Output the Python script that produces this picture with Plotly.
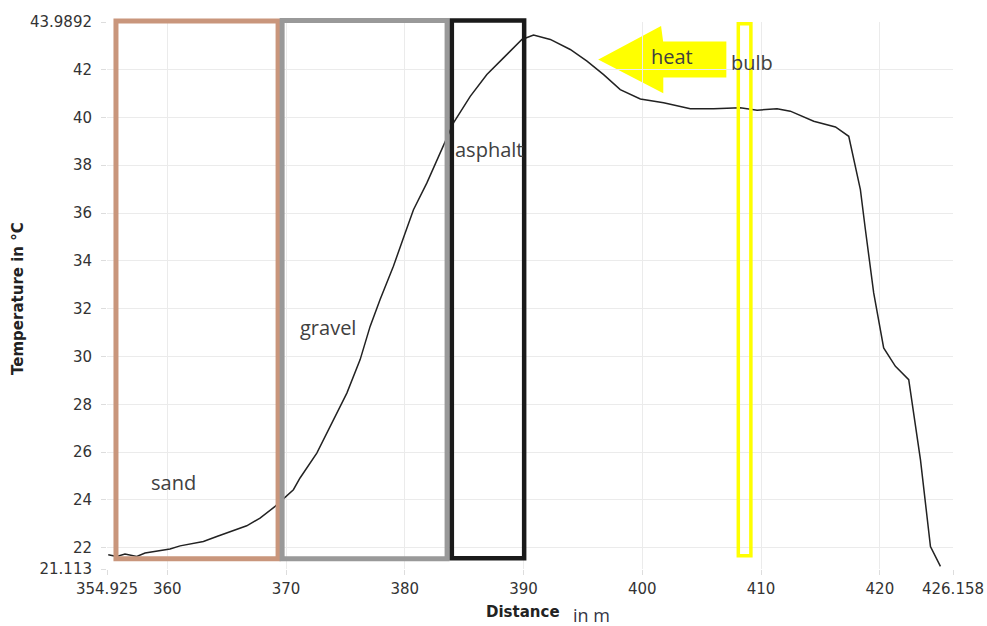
import plotly.graph_objects as go

# ---- data ----
distance = [355.03, 355.74, 356.44, 357.43, 358.13, 359.11, 360.23, 361.08, 361.92, 363.04,
            364.17, 365.29, 366.69, 367.81, 369.08, 370.62, 371.18, 372.59, 373.99, 375.12,
            376.24, 377.08, 377.92, 379.04, 380.03, 380.73, 381.86, 383.26, 384.10, 385.51,
            386.91, 388.31, 389.86, 390.84, 392.25, 393.93, 395.34, 396.74, 398.14, 399.83,
            401.79, 404.04, 406.00, 408.25, 409.66, 411.34, 412.46, 414.43, 416.26, 417.38,
            418.36, 418.78, 419.35, 419.48, 420.32, 421.31, 422.43, 423.42, 424.26, 425.10]
temperature = [21.71, 21.64, 21.74, 21.64, 21.78, 21.87, 21.95, 22.08, 22.17, 22.26,
               22.47, 22.68, 22.92, 23.24, 23.73, 24.43, 24.92, 25.96, 27.36, 28.47,
               29.87, 31.26, 32.38, 33.77, 35.17, 36.14, 37.26, 38.86, 39.77, 40.88,
               41.79, 42.49, 43.26, 43.44, 43.26, 42.84, 42.35, 41.79, 41.16, 40.77,
               40.61, 40.36, 40.36, 40.40, 40.30, 40.36, 40.26, 39.84, 39.60, 39.21,
               36.98, 35.31, 33.21, 32.66, 30.36, 29.59, 29.03, 25.68, 22.05, 21.22]

x_min, x_max = 354.925, 426.158
y_min, y_max = 21.113, 43.9892
x_ticks = [354.925, 360, 370, 380, 390, 400, 410, 420, 426.158]
x_tick_text = ["354.925", "360", "370", "380", "390", "400", "410", "420", "426.158"]
y_ticks = [21.113, 22, 24, 26, 28, 30, 32, 34, 36, 38, 40, 42, 43.9892]
y_tick_text = ["21.113", "22", "24", "26", "28", "30", "32", "34", "36", "38", "40", "42", "43.9892"]

# zones: name, x0, x1, y_bottom, y_top, colour, width
zones = [
    ("sand", 355.68, 369.33, 21.54, 44.03, "#c9967c", 5),
    ("gravel", 369.67, 383.56, 21.54, 44.05, "#999999", 5),
    ("asphalt", 383.96, 390.05, 21.56, 44.05, "#1a1a1a", 4.5),
    ("bulb", 408.08, 409.14, 21.67, 43.92, "#ffff00", 3.5),
]
labels = [
    ("sand", 360.49, 24.72),
    ("gravel", 373.50, 31.21),
    ("asphalt", 387.11, 38.65),
    ("heat", 402.50, 42.56),
    ("bulb", 409.24, 42.28),
]
arrow_x = [396.46, 401.51, 401.68, 406.99, 406.99, 401.68, 401.68]
arrow_y = [42.42, 43.76, 43.13, 43.13, 41.71, 41.71, 41.08]


def to_paper_y(v):
    return (v - y_min) / (y_max - y_min)


fig = go.Figure()
fig.add_trace(go.Scatter(x=distance, y=temperature, mode="lines",
                         line=dict(color="#222222", width=1.5), hoverinfo="skip",
                         showlegend=False))

shapes = []
for name, x0, x1, yb, yt, col, w in zones:
    shapes.append(dict(type="rect", xref="x", yref="paper", x0=x0, x1=x1,
                       y0=to_paper_y(yb), y1=to_paper_y(yt),
                       line=dict(color=col, width=w), fillcolor="rgba(0,0,0,0)",
                       layer="above"))
path = "M " + " L ".join(f"{a},{b}" for a, b in zip(arrow_x, arrow_y)) + " Z"
shapes.append(dict(type="path", xref="x", yref="y", path=path,
                   fillcolor="#ffff00", line=dict(color="#ffff00", width=2), layer="below"))

annotations = []
for text, ax_, ay_ in labels:
    annotations.append(dict(text=text, x=ax_, y=ay_, xref="x", yref="y", showarrow=False,
                            font=dict(family="Open Sans", size=20, color="#404040"),
                            xanchor="center", yanchor="middle"))
annotations.append(dict(text="<b>Distance</b>", x=0.4923, y=-0.0786, xref="paper", yref="paper",
                        showarrow=False, xanchor="center", yanchor="middle",
                        font=dict(family="DejaVu Sans", size=15, color="#222222")))
annotations.append(dict(text="in m", x=0.5728, y=-0.0841, xref="paper", yref="paper",
                        showarrow=False, xanchor="center", yanchor="middle",
                        font=dict(family="Open Sans", size=18, color="#353545")))
annotations.append(dict(text="<b>Temperature in °C</b>", x=-0.1053, y=0.4954, xref="paper",
                        yref="paper", showarrow=False, textangle=-90, xanchor="center",
                        yanchor="middle",
                        font=dict(family="DejaVu Sans", size=15, color="#222222")))

axis_common = dict(showgrid=True, gridcolor="#ebebeb", gridwidth=1, zeroline=False,
                   showline=False, ticks="outside", ticklen=5, tickcolor="#dddddd",
                   tickfont=dict(family="DejaVu Sans", size=15, color="#333333"),
                   tickmode="array", fixedrange=True, ticklabeloverflow="allow",
                   automargin=False)

fig.update_layout(
    width=987, height=626,
    margin=dict(l=107, r=34, t=22, b=57),
    paper_bgcolor="white", plot_bgcolor="white",
    xaxis=dict(range=[x_min, x_max], tickvals=x_ticks, ticktext=x_tick_text,
               ticklabelstandoff=1, **axis_common),
    yaxis=dict(range=[y_min, y_max], tickvals=y_ticks, ticktext=y_tick_text,
               ticklabelstandoff=6, **axis_common),
    shapes=shapes, annotations=annotations, showlegend=False,
)

fig.write_html("out.html")
